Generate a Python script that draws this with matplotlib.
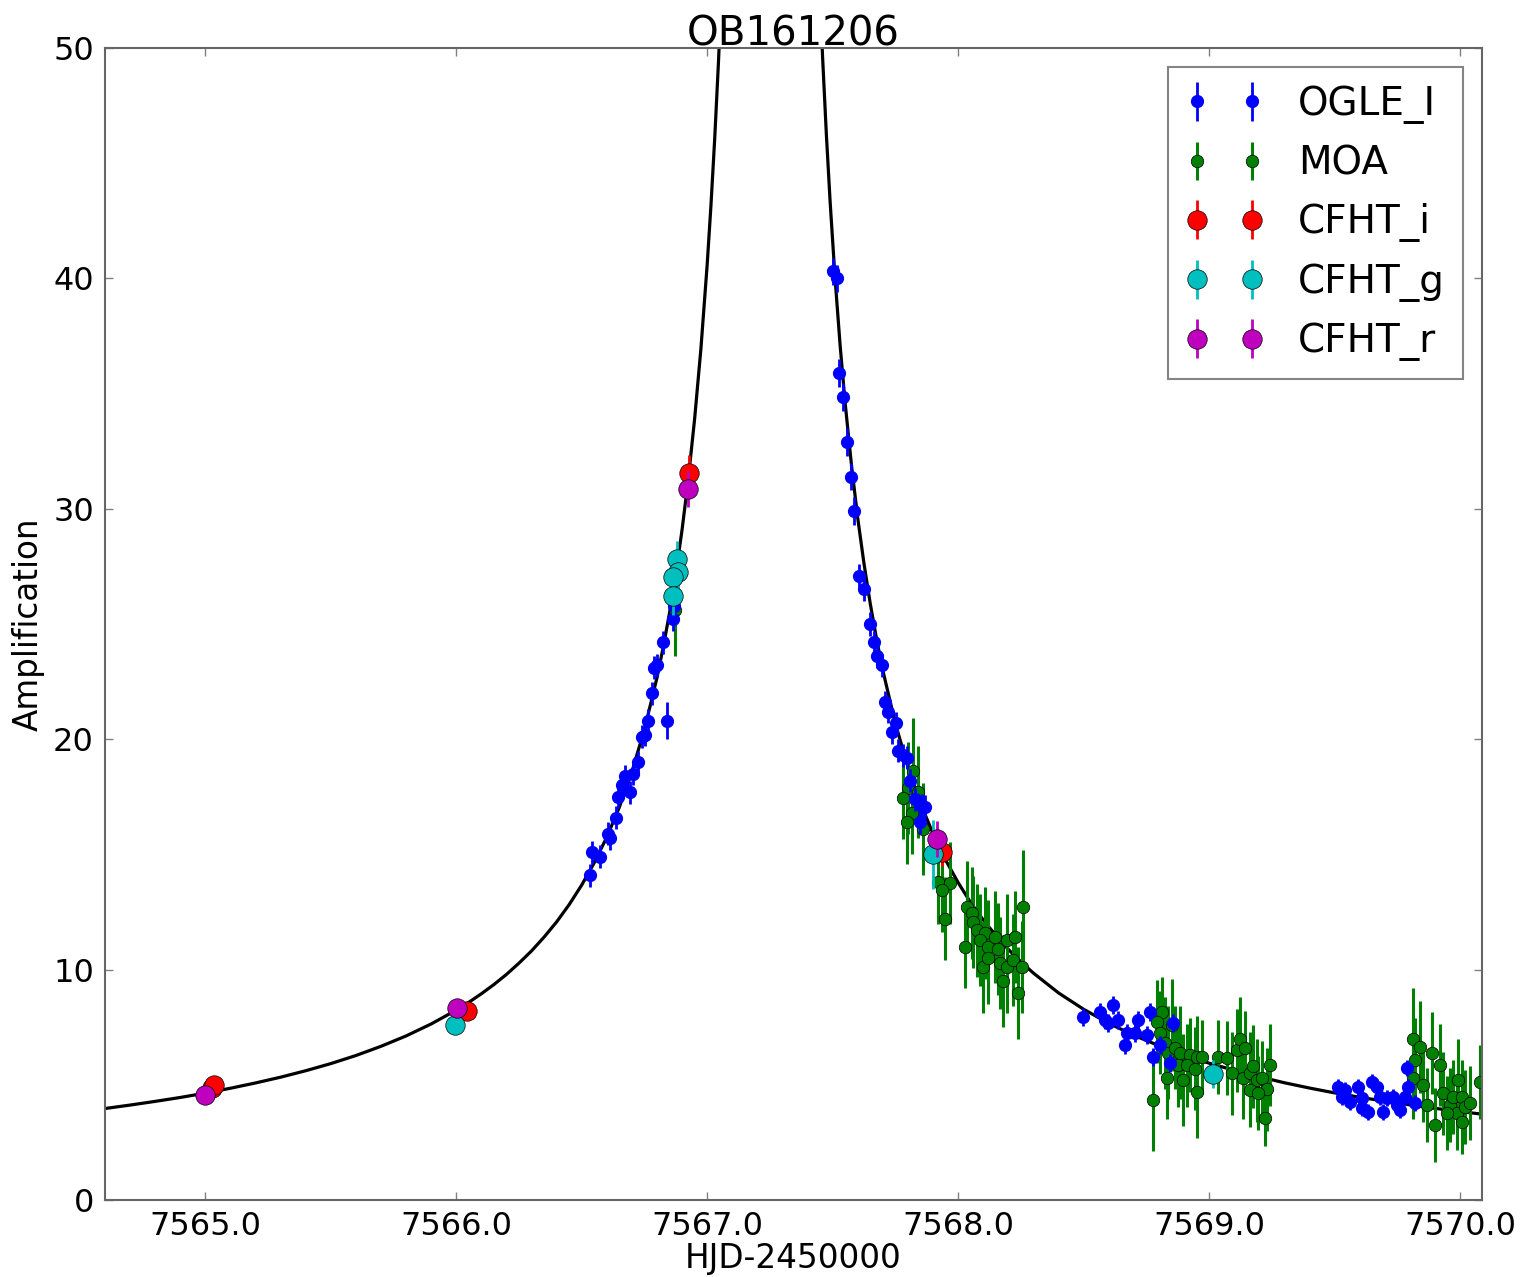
import numpy as np
import matplotlib
matplotlib.use("Agg")
import matplotlib.pyplot as plt

# model curve
model_t = [7564.60, 7564.70, 7564.80, 7564.90, 7565.00, 7565.10, 7565.20, 7565.30,
           7565.40, 7565.50, 7565.60, 7565.70, 7565.80, 7565.90, 7566.00, 7566.05,
           7566.10, 7566.15, 7566.20, 7566.25, 7566.30, 7566.35, 7566.40, 7566.45,
           7566.50, 7566.55, 7566.60, 7566.65, 7566.70, 7566.75, 7566.80, 7566.825,
           7566.85, 7566.875, 7566.90, 7566.925, 7566.95, 7566.975, 7567.00, 7567.015,
           7567.03, 7567.045, 7567.06, 7567.075,
           7567.43, 7567.445, 7567.46, 7567.475, 7567.49, 7567.51, 7567.53, 7567.55,
           7567.575, 7567.60, 7567.625, 7567.65, 7567.675, 7567.70, 7567.75, 7567.80,
           7567.85, 7567.90, 7567.95, 7568.00, 7568.05, 7568.10, 7568.15, 7568.20,
           7568.25, 7568.30, 7568.40, 7568.50, 7568.60, 7568.70, 7568.80, 7568.90,
           7569.00, 7569.10, 7569.20, 7569.30, 7569.40, 7569.50, 7569.60, 7569.70,
           7569.80, 7569.90, 7570.00, 7570.10]
model_A = [3.97, 4.12, 4.28, 4.45, 4.64, 4.85, 5.08, 5.33,
           5.61, 5.92, 6.27, 6.67, 7.12, 7.64, 8.24, 8.58,
           8.95, 9.35, 9.79, 10.28, 10.81, 11.41, 12.07, 12.82,
           13.67, 14.64, 15.75, 17.05, 18.59, 20.42, 22.67, 24.0,
           25.48, 27.17, 29.09, 31.31, 33.90, 36.94, 40.59, 43.15,
           46.05, 49.38, 53.2, 57.7,
           58.0, 53.5, 49.6, 46.26, 43.33, 39.96, 37.08, 34.58,
           31.91, 29.6, 27.62, 25.88, 24.35, 22.99, 20.68, 18.80,
           17.22, 15.90, 14.76, 13.78, 12.91, 12.16, 11.49, 10.88,
           10.34, 9.85, 8.99, 8.28, 7.67, 7.15, 6.70, 6.29,
           5.94, 5.63, 5.35, 5.09, 4.86, 4.65, 4.46, 4.29,
           4.13, 3.98, 3.84, 3.71]

ogle_t = [7566.534, 7566.542, 7566.574, 7566.605, 7566.614, 7566.637, 7566.645, 7566.661,
          7566.673, 7566.693, 7566.705, 7566.725, 7566.741, 7566.753, 7566.765, 7566.780,
          7566.790, 7566.800, 7566.825, 7566.840, 7566.865, 7566.868,
          7567.502, 7567.518, 7567.526, 7567.542, 7567.558, 7567.574, 7567.586, 7567.606,
          7567.625, 7567.649, 7567.665, 7567.677, 7567.697, 7567.709, 7567.721, 7567.737,
          7567.753, 7567.761, 7567.781, 7567.797, 7567.809, 7567.829, 7567.849, 7567.857,
          7567.869,
          7568.498, 7568.566, 7568.586, 7568.598, 7568.618, 7568.637, 7568.665, 7568.673,
          7568.705, 7568.717, 7568.753, 7568.765, 7568.777, 7568.805, 7568.845, 7568.857,
          7569.514, 7569.542, 7569.530, 7569.562, 7569.594, 7569.610, 7569.610, 7569.633,
          7569.649, 7569.669, 7569.681, 7569.693, 7569.709, 7569.733, 7569.749, 7569.761,
          7569.781, 7569.789, 7569.793, 7569.821]
ogle_A = [14.1, 15.1, 14.9, 15.9, 15.7, 16.6, 17.5, 18.0,
          18.4, 17.7, 18.5, 19.0, 20.1, 20.2, 20.8, 22.0,
          23.1, 23.2, 24.2, 20.8, 25.2, 25.8,
          40.3, 40.0, 35.9, 34.85, 32.9, 31.4, 29.9, 27.1,
          26.5, 25.0, 24.2, 23.6, 23.2, 21.6, 21.2, 20.3,
          20.7, 19.5, 19.3, 19.2, 18.2, 17.4, 16.4, 17.1,
          17.06,
          7.94, 8.16, 7.81, 7.68, 8.46, 7.81, 6.73, 7.25,
          7.25, 7.81, 7.16, 8.16, 6.2, 6.73, 5.95, 7.68,
          4.9, 4.77, 4.47, 4.25, 4.9, 4.43, 3.99, 3.82,
          5.12, 4.9, 4.47, 3.82, 4.43, 4.47, 4.12, 3.9,
          4.47, 5.73, 4.9, 4.21]
ogle_err = [0.5] * 21 + [0.5] + [0.6] * 7 + [0.5] * 18 + [0.4] * 16 + [0.35] * 20
ogle_err[19] = 0.8

moa_t = [7566.870,
         7567.821, 7567.801, 7567.781, 7567.841, 7567.817, 7567.797, 7567.861,
         7567.920, 7567.968, 7567.936, 7567.948, 7568.036, 7568.056, 7568.060, 7568.028,
         7568.076, 7568.108, 7568.088, 7568.120, 7568.147, 7568.159, 7568.100, 7568.120,
         7568.167, 7568.195, 7568.227, 7568.259, 7568.195, 7568.219, 7568.255, 7568.179,
         7568.239,
         7568.777, 7568.813, 7568.793, 7568.805, 7568.825, 7568.837, 7568.865, 7568.833,
         7568.884, 7568.876, 7568.896, 7568.924, 7568.912, 7568.952, 7568.972, 7568.944,
         7568.952, 7568.853,
         7569.036, 7569.072, 7569.092, 7569.112, 7569.124, 7569.143, 7569.135, 7569.163,
         7569.175, 7569.191, 7569.211, 7569.231, 7569.243, 7569.223, 7569.163, 7569.195,
         7569.813, 7569.841, 7569.888, 7569.920, 7569.821, 7569.813, 7569.853, 7569.869,
         7569.900, 7569.932, 7569.960, 7569.972, 7569.992, 7570.008, 7569.988, 7570.020,
         7570.040, 7569.948, 7570.008, 7570.080]
moa_A = [25.6,
         18.6, 17.9, 17.45, 17.7, 16.8, 16.4, 16.1,
         13.8, 13.76, 13.45, 12.2, 12.7, 12.45, 12.07, 10.98,
         11.7, 11.6, 11.3, 11.0, 11.4, 10.9, 10.1, 10.5,
         10.3, 11.3, 11.4, 12.7, 10.1, 10.4, 10.1, 9.5,
         9.0,
         4.34, 8.16, 7.73, 7.25, 6.8, 6.4, 6.6, 5.3,
         6.4, 5.85, 5.2, 6.3, 5.85, 6.2, 6.2, 5.7,
         4.7, 7.6,
         6.2, 6.16, 5.5, 6.5, 7.0, 6.6, 5.3, 5.5,
         5.8, 5.2, 5.3, 4.8, 5.86, 3.56, 4.77, 4.64,
         7.0, 6.64, 6.38, 5.86, 6.08, 5.3, 5.0, 4.12,
         3.26, 4.64, 4.12, 4.47, 5.2, 4.47, 3.78, 4.04,
         4.21, 3.78, 3.39, 5.12]
moa_err = ([2.0] + [2.3, 2.0, 1.8, 2.0, 1.8, 1.8, 2.0]
           + [1.8, 1.8, 1.8, 1.8, 2.0, 2.0, 2.0, 1.8]
           + [2.0] * 11 + [2.5] + [2.0] * 5
           + [2.2, 1.5, 1.8, 1.8, 2.0, 2.0, 1.8, 1.8,
              2.0, 1.8, 2.0, 1.6, 1.8, 1.8, 1.6, 1.8,
              2.0, 2.0]
           + [1.6, 1.6, 1.8, 1.8, 1.8, 1.6, 1.8, 1.8,
              1.8, 1.8, 1.6, 1.8, 1.8, 1.2, 1.6, 1.6]
           + [2.2, 2.0, 1.8, 1.8, 1.8, 1.8, 1.6, 1.6,
              1.6, 1.8, 1.6, 1.6, 1.8, 1.6, 1.6, 1.6,
              1.6, 1.6, 1.4, 1.6])

cfht_i_t = [7565.025, 7565.035, 7566.044, 7566.928, 7567.936]
cfht_i_A = [4.85, 4.99, 8.2, 31.55, 15.1]
cfht_i_err = [0.3, 0.3, 0.4, 0.8, 0.6]

cfht_g_t = [7565.996, 7566.880, 7566.884, 7566.865, 7566.865, 7567.900, 7569.016]
cfht_g_A = [7.6, 27.8, 27.26, 27.04, 26.2, 15.0, 5.47]
cfht_g_err = [0.4, 0.8, 0.8, 0.8, 0.8, 1.5, 0.6]

cfht_r_t = [7565.000, 7566.004, 7566.924, 7567.916]
cfht_r_A = [4.56, 8.33, 30.86, 15.67]
cfht_r_err = [0.3, 0.4, 0.8, 0.8]

fig = plt.figure(figsize=(15.23, 12.77), dpi=100)
ax = fig.add_axes([0.0689, 0.0603, 0.9042, 0.9021])

ax.plot(model_t, model_A, color='k', lw=2.3, zorder=1)

ax.errorbar(ogle_t, ogle_A, yerr=ogle_err, fmt='o', color='b', ms=8.5, mec='b',
            elinewidth=2, capsize=0, label='OGLE_I', zorder=3)
ax.errorbar(moa_t, moa_A, yerr=moa_err, fmt='o', color='g', ms=9, mec='k', mew=0.5,
            elinewidth=2.2, capsize=0, label='MOA', zorder=2)
ax.errorbar(cfht_i_t, cfht_i_A, yerr=cfht_i_err, fmt='o', color='r', ms=14, mec='k', mew=0.5,
            elinewidth=2, capsize=0, label='CFHT_i', zorder=4)
ax.errorbar(cfht_g_t, cfht_g_A, yerr=cfht_g_err, fmt='o', color='c', ms=14, mec='k', mew=0.5,
            elinewidth=2, capsize=0, label='CFHT_g', zorder=4)
ax.errorbar(cfht_r_t, cfht_r_A, yerr=cfht_r_err, fmt='o', color='m', ms=14, mec='k', mew=0.5,
            elinewidth=2, capsize=0, label='CFHT_r', zorder=5)

ax.set_xlim(7564.6, 7570.088)
ax.set_ylim(0, 50)
ax.set_xticks([7565, 7566, 7567, 7568, 7569, 7570])
ax.set_xticklabels(['%.1f' % v for v in [7565, 7566, 7567, 7568, 7569, 7570]])
ax.set_yticks([0, 10, 20, 30, 40, 50])

for s in ax.spines.values():
    s.set_color('0.4')
    s.set_linewidth(1.5)
ax.tick_params(direction='in', length=6, width=1, color='0.5', top=True, right=True,
               labelsize=23, pad=8)

ax.set_title('OB161206', fontsize=29, pad=2)
ax.set_xlabel('HJD-2450000', fontsize=23.5, labelpad=0)
ax.set_ylabel('Amplification', fontsize=23.5, labelpad=6)

leg = ax.legend(loc='upper right', numpoints=2, fontsize=28, handlelength=2,
                handletextpad=0.9, borderpad=0.45, labelspacing=0.53, fancybox=False)
leg.get_frame().set_edgecolor('0.4')
leg.get_frame().set_linewidth(1.5)

fig.savefig('out.png', dpi=100)
